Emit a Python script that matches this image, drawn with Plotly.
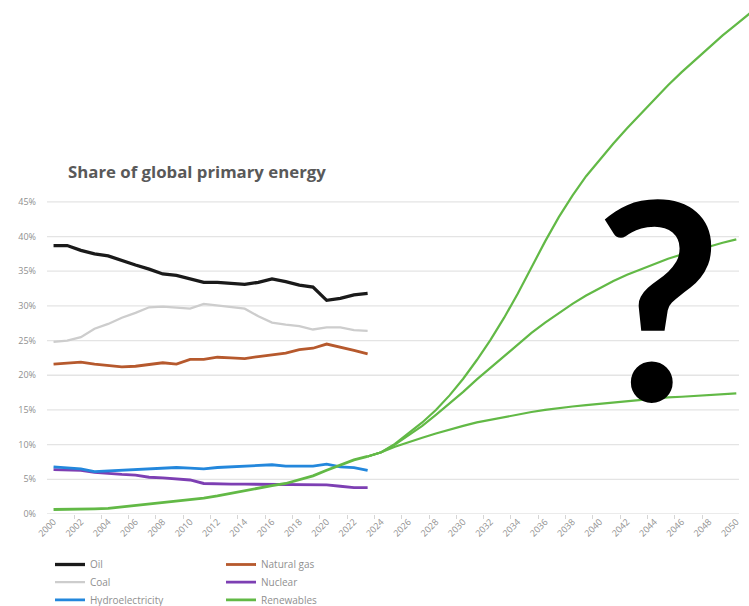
import plotly.graph_objects as go

# Historical shares of global primary energy, 2000-2023 (%)
years = list(range(2000, 2024))
oil = [38.7, 38.7, 38.0, 37.5, 37.2, 36.5, 35.9, 35.3, 34.6, 34.4, 33.9, 33.4,
       33.4, 33.2, 33.1, 33.4, 33.9, 33.5, 33.0, 32.7, 30.8, 31.1, 31.6, 31.8]
coal = [24.8, 25.0, 25.5, 26.7, 27.4, 28.3, 29.0, 29.8, 29.9, 29.7, 29.6, 30.3,
        30.1, 29.8, 29.6, 28.5, 27.6, 27.3, 27.1, 26.6, 26.9, 26.9, 26.5, 26.4]
natural_gas = [21.6, 21.8, 21.9, 21.6, 21.4, 21.2, 21.3, 21.5, 21.8, 21.6, 22.3, 22.3,
               22.6, 22.5, 22.4, 22.7, 22.9, 23.2, 23.7, 23.9, 24.5, 24.1, 23.6, 23.1]
hydro = [6.8, 6.6, 6.5, 6.1, 6.2, 6.3, 6.3, 6.4, 6.5, 6.7, 6.6, 6.5,
         6.7, 6.8, 6.8, 7.0, 7.1, 6.9, 6.9, 6.9, 7.2, 6.8, 6.7, 6.3]
nuclear = [6.4, 6.4, 6.3, 6.0, 5.8, 5.7, 5.6, 5.3, 5.2, 5.1, 4.9, 4.4,
           4.3, 4.3, 4.3, 4.3, 4.3, 4.2, 4.2, 4.2, 4.2, 4.0, 3.8, 3.8]
renewables = [0.65, 0.65, 0.7, 0.75, 0.8, 1.0, 1.2, 1.4, 1.6, 1.9, 2.1, 2.3,
              2.6, 3.0, 3.3, 3.7, 4.1, 4.4, 4.9, 5.5, 6.3, 7.1, 7.8, 8.3]

# Possible renewables pathways from 2023 onward (%)
fast_years = list(range(2023, 2052))
fast_path = [8.3, 8.9, 10.1, 11.6, 13.2, 15.0, 17.1, 19.5, 22.2, 25.1, 28.3, 31.8,
             35.6, 39.3, 42.8, 45.9, 48.7, 51.1, 53.4, 55.6, 57.7, 59.8, 61.8,
             63.7, 65.5, 67.3, 69.0, 70.6, 72.2]
path_years = list(range(2023, 2051))
mid_path = [8.3, 8.9, 10.0, 11.3, 12.7, 14.3, 15.9, 17.6, 19.4, 21.1, 22.8, 24.5,
            26.1, 27.6, 29.0, 30.3, 31.5, 32.6, 33.6, 34.5, 35.3, 36.1, 36.8,
            37.4, 38.0, 38.6, 39.1, 39.6]
slow_path = [8.3, 8.9, 9.7, 10.4, 11.0, 11.6, 12.2, 12.7, 13.2, 13.6, 14.0, 14.4,
             14.7, 15.0, 15.3, 15.5, 15.7, 15.9, 16.1, 16.3, 16.5, 16.6, 16.8,
             16.9, 17.0, 17.2, 17.3, 17.4]

y_ticks = [0, 5, 10, 15, 20, 25, 30, 35, 40, 45]
x_label_years = list(range(2000, 2051, 2))
x_tick_marks = [y - 0.5 for y in range(2000, 2050, 2)]

GREEN = "#62b946"
fig = go.Figure()

# name, values, colour, width, legend id (one per key slot: two columns x three rows)
series = [
    ("Coal", coal, "#cdcdcd", 2.3, "legend2"),
    ("Natural gas", natural_gas, "#b6592d", 2.8, "legend4"),
    ("Oil", oil, "#1a1a1a", 3.3, "legend"),
    ("Nuclear", nuclear, "#7d3fb3", 2.8, "legend5"),
    ("Hydroelectricity", hydro, "#2387dc", 2.8, "legend3"),
    ("Renewables", renewables, GREEN, 2.8, "legend6"),
]
for name, vals, color, width, leg in series:
    fig.add_trace(go.Scatter(
        x=years, y=vals, name=name, mode="lines",
        line=dict(color=color, width=width),
        legend=leg, hoverinfo="skip",
    ))

for px_years, path in [(fast_years, fast_path), (path_years, mid_path), (path_years, slow_path)]:
    fig.add_trace(go.Scatter(
        x=px_years, y=path, mode="lines", showlegend=False,
        line=dict(color=GREEN, width=2.2), hoverinfo="skip",
    ))

# Horizontal gridlines stop at the last category
for v in y_ticks:
    fig.add_shape(type="line", xref="x", yref="y", x0=1999.5, x1=2050.2, y0=v, y1=v,
                  line=dict(color="#e4e4e4", width=1.3), layer="below")

fig.add_annotation(
    text="<b>?</b>", xref="paper", yref="paper", x=0.871, y=0.428,
    xanchor="center", yanchor="middle", showarrow=False,
    font=dict(family="Lato", size=276, color="#000000"),
)

tick_font = dict(family="Open Sans", size=9, color="#8f8f8f")


def key_slot(x_px, top_px):
    return dict(
        orientation="v", xref="container", yref="container",
        x=x_px / 749, y=1 - top_px / 606, xanchor="left", yanchor="top",
        bgcolor="rgba(0,0,0,0)", font=dict(family="Open Sans", size=10, color="#8f8f8f"),
    )


fig.update_layout(
    width=749, height=606,
    margin=dict(l=47, r=0, t=0, b=92, autoexpand=False),
    paper_bgcolor="white", plot_bgcolor="white",
    title=dict(
        text="<b>Share of global primary energy</b>",
        xref="container", yref="container", x=68 / 749, y=1 - 172 / 606,
        xanchor="left", yanchor="middle",
        font=dict(family="Open Sans", size=16.8, color="#595959"),
    ),
    xaxis=dict(
        range=[1999.52, 2050.93], tickmode="array", tickvals=x_label_years,
        ticktext=[str(y) for y in x_label_years], tickangle=-45, ticks="",
        tickfont=tick_font, showgrid=False, zeroline=False, showline=False,
        minor=dict(tickmode="array", tickvals=x_tick_marks, ticks="outside",
                   ticklen=4, tickcolor="#d6d6d6", tickwidth=1, showgrid=False),
    ),
    yaxis=dict(
        range=[0, 74.1], tickmode="array", tickvals=y_ticks,
        ticktext=[f"{v}%" for v in y_ticks], ticks="", tickfont=tick_font,
        showgrid=False, zeroline=False, showline=False, ticklabelstandoff=10,
    ),
    legend=key_slot(50, 550),
    legend2=key_slot(50, 567.7),
    legend3=key_slot(50, 585.3),
    legend4=key_slot(221, 550),
    legend5=key_slot(221, 567.7),
    legend6=key_slot(221, 585.3),
)

fig.write_html("out.html")
